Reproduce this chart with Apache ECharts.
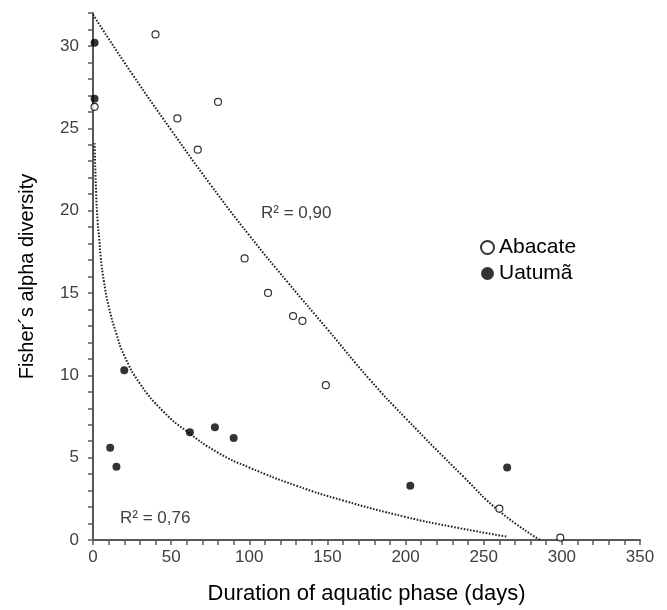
<!DOCTYPE html>
<html>
<head>
<meta charset="utf-8">
<script src="https://cdn.jsdelivr.net/npm/echarts@6/dist/echarts.min.js"></script>
<style>html,body{margin:0;padding:0;background:#fff}#c{width:667px;height:610px}</style>
</head>
<body>
<div id="c"></div>
<script>
// Abacate (open circles): [days, Fisher's alpha]
const abacate = [
  [1, 26.3], [40, 30.7], [54, 25.6], [67, 23.7], [80, 26.6], [97, 17.1],
  [112, 15.0], [128, 13.6], [134, 13.3], [149, 9.4], [260, 1.9], [299, 0.15]
];
// Uatumã (filled circles)
const uatuma = [
  [1, 30.2], [1, 26.8], [11, 5.6], [15, 4.45], [20, 10.3], [62, 6.55],
  [78, 6.85], [90, 6.2], [203, 3.3], [265, 4.4]
];
// Trend line of Abacate
const trendAbacate = [
  [0, 31.9], [25, 28.3], [50, 24.9], [75, 21.6], [100, 18.5], [125, 15.6],
  [150, 12.8], [177, 9.75], [200, 7.4], [237, 3.85], [260, 1.75], [286, 0]
];
// Trend line of Uatumã
const trendUatuma = [
  [1, 24.1], [2, 21.1], [3, 19.3], [4, 18.3], [5, 17.1], [7, 15.7], [10, 14.2],
  [15, 12.5], [20, 11.2], [30, 9.5], [45, 7.8], [60, 6.6], [80, 5.3],
  [100, 4.4], [130, 3.3], [160, 2.4], [200, 1.4], [230, 0.8], [265, 0.2]
];
const r2Labels = ['R² = 0,90', 'R² = 0,76'];
const xTitle = 'Duration of aquatic phase (days)';
const yTitle = 'Fisher´s alpha diversity';

const axisGray = '#595959';
const labelGray = '#404040';
const chart = echarts.init(document.getElementById('c'), null, {renderer: 'canvas'});
const font = 'Liberation Sans, Arial, sans-serif';
chart.setOption({
  animation: false,
  textStyle: {fontFamily: font},
  grid: {left: 93, right: 27, top: 13, bottom: 69},
  legend: {
    data: ['Abacate', 'Uatumã'],
    orient: 'vertical',
    left: 475, top: 232,
    itemWidth: 13, itemHeight: 13, itemGap: 5,
    textStyle: {fontSize: 21, color: '#000', fontFamily: font, padding: [0, 0, 0, 0]}
  },
  xAxis: {
    type: 'value', min: 0, max: 350, interval: 50,
    name: xTitle, nameLocation: 'middle', nameGap: 43,
    nameTextStyle: {fontSize: 22, color: '#000', fontFamily: font},
    axisLine: {lineStyle: {color: axisGray, width: 2}},
    axisTick: {length: 5, lineStyle: {color: axisGray, width: 1.5}},
    minorTick: {show: true, splitNumber: 5, length: 5, lineStyle: {color: axisGray, width: 1.5}},
    axisLabel: {fontSize: 17, color: labelGray, margin: 9},
    splitLine: {show: false}
  },
  yAxis: {
    type: 'value', min: 0, max: 32, interval: 5,
    name: yTitle, nameLocation: 'middle', nameGap: 56,
    nameTextStyle: {fontSize: 20, color: '#000', fontFamily: font},
    axisLine: {show: true, lineStyle: {color: axisGray, width: 2}},
    axisTick: {show: true, length: 5, lineStyle: {color: axisGray, width: 1.5}},
    minorTick: {show: true, splitNumber: 5, length: 5, lineStyle: {color: axisGray, width: 1.5}},
    axisLabel: {fontSize: 17, color: labelGray, margin: 14,
      formatter: v => (v % 5 === 0 ? String(v) : '')},
    splitLine: {show: false}
  },
  graphic: [
    {type: 'text', left: 261, top: 205, style: {text: r2Labels[0], fontSize: 17, fill: labelGray, fontFamily: font}},
    {type: 'text', left: 120, top: 510, style: {text: r2Labels[1], fontSize: 17, fill: labelGray, fontFamily: font}}
  ],
  series: [
    {
      name: 'trendA', type: 'line', data: trendAbacate, symbol: 'none', smooth: true,
      lineStyle: {color: '#222', width: 2, type: [1.6, 1.6]}, silent: true, z: 1
    },
    {
      name: 'trendU', type: 'line', data: trendUatuma, symbol: 'none', smooth: true,
      lineStyle: {color: '#222', width: 2, type: [1.6, 1.6]}, silent: true, z: 1
    },
    {
      name: 'Abacate', type: 'scatter', data: abacate, symbol: 'circle', symbolSize: 7,
      itemStyle: {color: '#fff', borderColor: '#000', borderWidth: 1.2}, z: 3
    },
    {
      name: 'Uatumã', type: 'scatter', data: uatuma, symbol: 'circle', symbolSize: 8,
      itemStyle: {color: '#000'}, z: 3
    }
  ]
});
</script>
</body>
</html>
